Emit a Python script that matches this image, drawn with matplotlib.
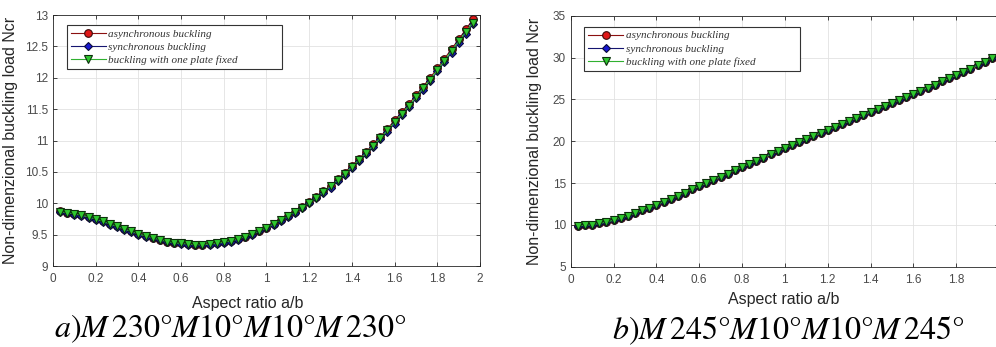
import matplotlib
matplotlib.use('Agg')
import matplotlib.pyplot as plt
import numpy as np

# aspect ratio a/b (step 1/30)
ratio = np.arange(1, 60) / 30

# panel a) M230 M10 M10 M230
ncr_a_async = [9.87, 9.85, 9.83, 9.81, 9.78, 9.75, 9.71, 9.67, 9.63, 9.59,
               9.55, 9.51, 9.48, 9.45, 9.42, 9.39, 9.37, 9.36, 9.35, 9.34,
               9.34, 9.35, 9.36, 9.38, 9.40, 9.43, 9.47, 9.51, 9.56, 9.61,
               9.67, 9.73, 9.79, 9.86, 9.94, 10.02, 10.10, 10.19, 10.28, 10.38,
               10.49, 10.60, 10.71, 10.82, 10.94, 11.06, 11.19, 11.32, 11.45, 11.58,
               11.72, 11.86, 12.00, 12.15, 12.30, 12.46, 12.61, 12.77, 12.93]
ncr_a_sync = [9.86, 9.84, 9.82, 9.80, 9.77, 9.74, 9.70, 9.66, 9.62, 9.58,
              9.54, 9.50, 9.47, 9.44, 9.41, 9.38, 9.36, 9.35, 9.34, 9.33,
              9.33, 9.34, 9.35, 9.37, 9.39, 9.42, 9.46, 9.50, 9.55, 9.60,
              9.66, 9.72, 9.78, 9.85, 9.92, 10.00, 10.08, 10.16, 10.25, 10.35,
              10.45, 10.56, 10.67, 10.78, 10.90, 11.02, 11.14, 11.27, 11.40, 11.53,
              11.67, 11.81, 11.95, 12.10, 12.25, 12.40, 12.55, 12.70, 12.86]
ncr_a_fixed = [9.86, 9.85, 9.83, 9.81, 9.78, 9.75, 9.71, 9.67, 9.63, 9.59,
               9.55, 9.51, 9.48, 9.45, 9.42, 9.39, 9.37, 9.36, 9.35, 9.34,
               9.34, 9.35, 9.36, 9.38, 9.40, 9.43, 9.47, 9.51, 9.56, 9.61,
               9.67, 9.73, 9.79, 9.86, 9.93, 10.01, 10.09, 10.18, 10.27, 10.37,
               10.47, 10.58, 10.69, 10.80, 10.92, 11.04, 11.16, 11.29, 11.42, 11.55,
               11.69, 11.83, 11.97, 12.12, 12.27, 12.43, 12.58, 12.73, 12.88]

# panel b) M245 M10 M10 M245
ncr_b_async = [9.90, 9.95, 10.04, 10.17, 10.34, 10.56, 10.81, 11.09, 11.40, 11.72,
               12.06, 12.41, 12.76, 13.12, 13.48, 13.86, 14.24, 14.62, 15.00, 15.38,
               15.76, 16.14, 16.52, 16.90, 17.28, 17.66, 18.04, 18.42, 18.80, 19.18,
               19.54, 19.90, 20.26, 20.62, 20.98, 21.34, 21.70, 22.06, 22.42, 22.78,
               23.14, 23.50, 23.86, 24.22, 24.58, 24.94, 25.30, 25.66, 26.03, 26.40,
               26.77, 27.14, 27.52, 27.90, 28.29, 28.69, 29.09, 29.50, 29.92]
ncr_b_sync = list(ncr_b_async)
ncr_b_fixed = list(ncr_b_async)

legend_labels = ['asynchronous buckling', 'synchronous buckling', 'buckling with one plate fixed']
captions = [r'$a)M\,230°M10°M10°M\,230°$', r'$b)M\,245°M10°M10°M\,245°$']

plt.rcParams['font.family'] = ['Liberation Sans', 'DejaVu Sans']

fig = plt.figure(figsize=(9.96, 3.47), dpi=100)
ax1 = fig.add_axes([0.0532, 0.2334, 0.4287, 0.7233])
ax2 = fig.add_axes([0.5730, 0.2314, 0.4300, 0.7233])


def draw_panel(ax, y_async, y_sync, y_fixed, ylim, yticks, ylabels):
    ax.plot(ratio, y_async, '-o', color='#8b1010', lw=0.8, ms=5.5,
            mfc='#e01818', mec='#3a0a0a', mew=0.8, label=legend_labels[0])
    ax.plot(ratio, y_sync, '-D', color='#151570', lw=0.8, ms=4.5,
            mfc='#1818d0', mec='#0a0a3a', mew=0.8, label=legend_labels[1])
    ax.plot(ratio, y_fixed, '-v', color='#30b030', lw=0.8, ms=5.5,
            mfc='#30c830', mec='#0c300c', mew=0.8, label=legend_labels[2])
    ax.set_xlim(0, 2)
    ax.set_ylim(*ylim)
    ax.set_xticks(np.arange(0, 2.01, 0.2))
    ax.set_xticklabels(['0', '0.2', '0.4', '0.6', '0.8', '1', '1.2', '1.4', '1.6', '1.8', '2'])
    ax.set_yticks(yticks)
    ax.set_yticklabels(ylabels)
    ax.grid(True, color='#e2e2e2', lw=0.6)
    ax.set_axisbelow(True)
    ax.tick_params(direction='in', top=True, right=True, length=3, width=0.6,
                   colors='#262626', labelcolor='#4a4a4a', labelsize=8.5)
    ax.tick_params(axis='x', pad=5)
    for s in ax.spines.values():
        s.set_color('#262626')
        s.set_linewidth(0.6)
    ax.set_xlabel('Aspect ratio a/b', fontsize=11.5, color='#262626')
    ax.set_ylabel('Non-dimenzional buckling load Ncr', fontsize=11.5, color='#262626')


draw_panel(ax1, ncr_a_async, ncr_a_sync, ncr_a_fixed, (9, 13),
           np.arange(9, 13.01, 0.5), ['9', '9.5', '10', '10.5', '11', '11.5', '12', '12.5', '13'])
draw_panel(ax2, ncr_b_async, ncr_b_sync, ncr_b_fixed, (5, 35),
           np.arange(5, 36, 5), ['5', '10', '15', '20', '25', '30', '35'])

ax1.xaxis.set_label_coords(0.457, -0.12)
ax1.yaxis.set_label_coords(-0.081, 0.5)
ax2.xaxis.set_label_coords(0.497, -0.10)
ax2.yaxis.set_label_coords(-0.066, 0.5)

for ax, x0, top in [(ax1, 0.032, 0.96), (ax2, 0.031, 0.956)]:
    leg = ax.legend(loc='upper left', bbox_to_anchor=(x0, 0, 0.504, top), mode='expand',
                    borderaxespad=0, prop={'family': 'Liberation Serif', 'style': 'italic', 'size': 8},
                    handlelength=3.2, handletextpad=0.2, labelspacing=0.3, borderpad=0.35,
                    fancybox=False, framealpha=1, edgecolor='#333333')
    leg.get_frame().set_linewidth(0.8)
    for t in leg.get_texts():
        t.set_color('#333333')

fig.text(230 / 996, 0.028, captions[0], fontsize=23, ha='center', va='baseline',
         math_fontfamily='stix', color='black')
fig.text(788 / 996, 0.022, captions[1], fontsize=23, ha='center', va='baseline',
         math_fontfamily='stix', color='black')

fig.savefig('out.png', dpi=100)
